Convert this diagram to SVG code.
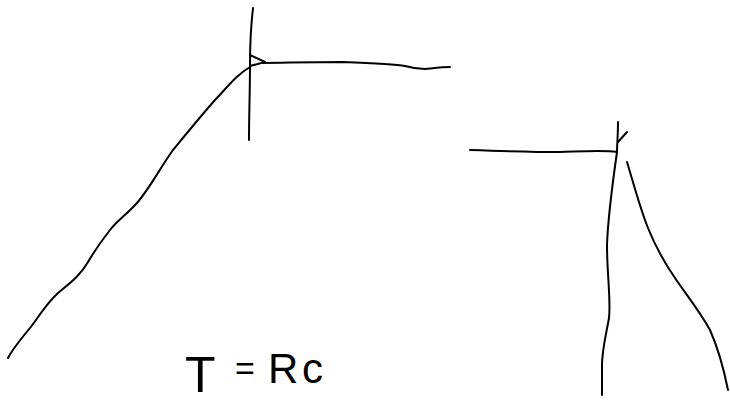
<svg xmlns="http://www.w3.org/2000/svg" width="730" height="405" viewBox="0 0 730 405">
<style>
.ink{fill:none;stroke:#000;stroke-width:2;stroke-linecap:round;stroke-linejoin:round}
.lbl{font-family:"Liberation Sans",Arial,sans-serif;fill:#000;font-size:42px}
</style>
<rect width="730" height="405" fill="#fff"/>
<g id="left-post">
<path class="ink" d="M253,8 C251,25 250,45 250,65 C250,90 249,115 249,140"/>
<path class="ink" d="M250,55 L265,62 L250,66"/>
<path class="ink" d="M263,63 C285,63 300,62 343,62 C370,63 395,64 405,66 C412,68 418,69 425,69 C435,68 443,67 450,67"/>
<path class="ink" d="M250,67 C238,74 230,84 215,100 C200,117 187,133 173,150 C160,168 150,188 137,203 C125,216 118,220 110,230 C100,243 95,250 88,262 C80,276 70,283 58,293 C45,305 38,318 30,328 C20,340 12,350 8,358"/>
</g>
<g id="right-post">
<path class="ink" d="M470,150 C500,151 530,152 560,152 C590,151 605,150 617,152"/>
<path class="ink" d="M618,122 C618,135 617,145 617,152 C613,180 608,215 607,245 C607,275 611,300 609,318 C606,335 602,350 602,365 C602,378 602,388 602,395"/>
<path class="ink" d="M618,142 L627,132"/>
<path class="ink" d="M627,162 C634,185 640,208 648,228 C656,248 664,262 675,278 C688,297 700,312 710,330 C718,348 724,370 728,390"/>
</g>
<text class="lbl"><tspan x="185" y="392" font-size="50">T</tspan><tspan x="235" y="380" font-size="34">=</tspan><tspan x="268" y="383">R</tspan><tspan x="302" y="383">c</tspan></text>
</svg>
